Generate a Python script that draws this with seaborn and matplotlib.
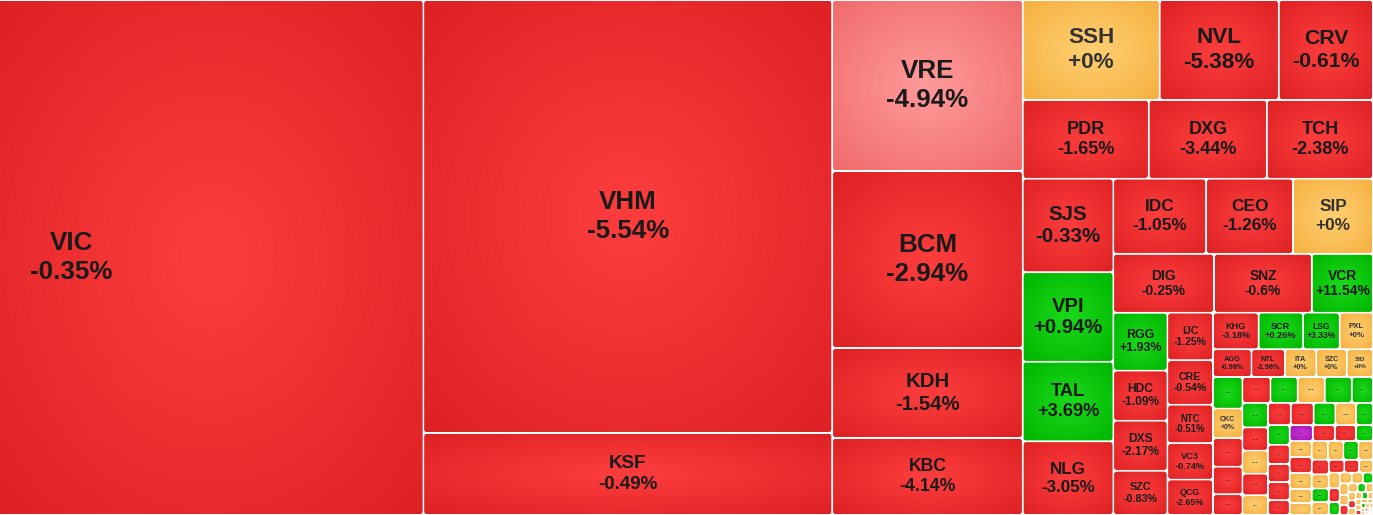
import numpy as np
import matplotlib
matplotlib.use("Agg")
import matplotlib.pyplot as plt
from matplotlib.patches import FancyBboxPatch
import seaborn as sns

# ---------------- data ----------------
tickers = ["VIC", "VHM", "KSF", "VRE", "BCM", "KDH", "KBC",
           "SSH", "NVL", "CRV", "PDR", "DXG", "TCH",
           "SJS", "VPI", "TAL", "NLG", "IDC", "CEO", "SIP",
           "DIG", "SNZ", "VCR", "RGG", "HDC", "DXS", "SZC",
           "IJC", "CRE", "NTC", "VC3", "QCG",
           "KHG", "SCR", "LSG", "PXL", "AGG", "NTL", "ITA", "SZC", "SID"]
changes = [-0.35, -5.54, -0.49, -4.94, -2.94, -1.54, -4.14,
           0, -5.38, -0.61, -1.65, -3.44, -2.38,
           -0.33, 0.94, 3.69, -3.05, -1.05, -1.26, 0,
           -0.25, -0.6, 11.54, 1.93, -1.09, -2.17, -0.83,
           -1.25, -0.54, -0.51, -0.74, -2.65,
           -3.18, 0.26, 3.33, 0, -0.98, -1.96, 0, 0, 0]
market_cap = [362000, 176660, 33460, 32490, 33630, 17100, 14630,
              13660, 11880, 9405, 9906, 9282, 8346,
              8460, 8100, 7200, 6660, 6956, 6512, 5994,
              5916, 5742, 3596, 3127, 2703, 2703, 2385,
              2162, 2024, 1748, 1656, 1610,
              1665, 1628, 1332, 1221, 1064, 924, 868, 840, 728]
highlighted = ["VRE"]

# small stocks whose tickers are hidden ("...")
tail_cap = [928, 870, 841, 812, 609,
            725, 700, 700, 700, 550,
            625, 588, 588, 550, 500,
            506, 506, 484, 462, 374,
            425, 414, 391, 391, 320,
            370, 350, 336, 272,
            352, 352, 352, 308, 264,
            300, 290, 280, 270, 250, 240, 230, 220, 200, 190,
            180, 170, 150, 140, 130, 120, 110, 100, 90, 85,
            80, 70, 65, 60, 55, 50, 45, 40, 36, 32,
            30, 28, 25, 22, 20, 18, 16, 14, 12, 10,
            9, 8, 7, 6, 5, 4, 3, 3, 2, 2]
tail_trend = ["g", "o", "r", "r", "r",
              "r", "g", "o", "g", "g",
              "g", "r", "o", "r", "o",
              "r", "r", "g", "o", "g",
              "g", "r", "r", "r", "r",
              "p", "r", "r", "g",
              "o", "r", "o", "o", "o",
              "o", "o", "g", "o", "r", "o", "g", "o", "r", "r",
              "o", "o", "r", "g", "o", "o", "g", "o", "o", "r",
              "o", "g", "o", "o", "r", "o", "o", "g", "o", "o",
              "o", "r", "o", "o", "g", "o", "o", "o", "o", "r",
              "o", "o", "o", "o", "o", "o", "o", "o", "o", "o"]
tail_named = {1: ("CKC", 0)}

# strip structure of the treemap (orientation, number of items)
strips = [("v", 1), ("v", 2), ("v", 4), ("h", 3), ("h", 3), ("v", 4),
          ("h", 3), ("h", 3), ("v", 4), ("v", 5), ("h", 4), ("h", 5),
          ("v", 5), ("h", 5), ("v", 5), ("h", 5), ("v", 5), ("h", 4), ("v", 5)]

LAYOUT_W, LAYOUT_H = 1654, 515
VIEW_W = 1373
VIEW_X0 = LAYOUT_W - VIEW_W

# ---------------- layout ----------------
def worst(row, side):
    s = sum(row)
    return max(max(side * side * r / (s * s), s * s / (side * side * r)) for r in row)


def layout(vals, strips, x, y, w, h):
    total = float(sum(vals))
    areas = [v * w * h / total for v in vals]
    rects = []
    i = 0
    for orient, n in strips:
        row = areas[i:i + n]
        s = sum(row)
        if orient == "v":
            t = s / h
            yy = y
            for a in row:
                rects.append((x, yy, t, a / t)); yy += a / t
            x += t; w -= t
        else:
            t = s / w
            xx = x
            for a in row:
                rects.append((xx, y, a / t, t)); xx += a / t
            y += t; h -= t
        i += n
    while i < len(areas):
        side = min(w, h)
        row = [areas[i]]; i += 1
        while i < len(areas) and worst(row + [areas[i]], side) <= worst(row, side):
            row.append(areas[i]); i += 1
        s = sum(row)
        if w >= h:
            t = s / h; yy = y
            for a in row:
                rects.append((x, yy, t, a / t)); yy += a / t
            x += t; w -= t
        else:
            t = s / w; xx = x
            for a in row:
                rects.append((xx, y, a / t, t)); xx += a / t
            y += t; h -= t
    return rects


all_vals = market_cap + tail_cap
rects = layout(all_vals, strips, 0, 0, LAYOUT_W, LAYOUT_H)

# ---------------- styling ----------------
sns.set_theme(style="white")
plt.rcParams["font.family"] = ["Liberation Sans", "DejaVu Sans"]

grad = {
    "r": ((0.99, 0.24, 0.24), (0.87, 0.13, 0.14)),
    "g": ((0.10, 0.85, 0.10), (0.00, 0.71, 0.00)),
    "o": ((1.00, 0.81, 0.44), (0.96, 0.69, 0.25)),
    "p": ((0.80, 0.20, 0.84), (0.64, 0.08, 0.70)),
    "k": ((1.00, 0.60, 0.60), (0.94, 0.42, 0.42)),
}

N = 48
gx, gy = np.meshgrid(np.linspace(-1, 1, N), np.linspace(-1, 1, N))
tt = np.clip(np.sqrt(gx ** 2 + gy ** 2) / np.sqrt(2), 0, 1) ** 1.1


def grad_img(key):
    c, e = np.array(grad[key][0]), np.array(grad[key][1])
    return c[None, None, :] * (1 - tt[..., None]) + e[None, None, :] * tt[..., None]


imgs = {k: grad_img(k) for k in grad}

fig = plt.figure(figsize=(VIEW_W / 100, LAYOUT_H / 100), dpi=100)
ax = fig.add_axes([0, 0, 1, 1])
ax.set_xlim(VIEW_X0, LAYOUT_W)
ax.set_ylim(LAYOUT_H, 0)
ax.axis("off")
fig.patch.set_facecolor("white")

PX2PT = 0.72
gap = 1.0


def trend_key(ch):
    if ch > 0:
        return "g"
    if ch < 0:
        return "r"
    return "o"


def draw_tile(r, key, label=None, pct=None, dots=False):
    x, y, w, h = r
    x0, y0, w0, h0 = x + gap, y + gap, max(w - 2 * gap, 0.3), max(h - 2 * gap, 0.3)
    rad = min(2.5, w0 / 3, h0 / 3)
    patch = FancyBboxPatch((x0, y0), w0, h0, boxstyle=f"round,pad=0,rounding_size={rad}",
                           linewidth=0, facecolor=grad[key][1])
    ax.add_patch(patch)
    # gradient spans the visible part of the tile
    gx0 = max(x0, VIEW_X0)
    im = ax.imshow(imgs[key], extent=(gx0, x0 + w0, y0 + h0, y0), interpolation="bilinear",
                   aspect="auto", zorder=1)
    im.set_clip_path(patch)
    cx, cy = x + w / 2, y + h / 2
    tc = "#333333" if key == "o" else "#1a1a1a"
    if label is not None:
        fs = max(5.0, min(26.0, 0.21 * h + 1.5, 0.22 * w + 0.5))
        ax.text(cx, cy - 0.54 * fs, label, ha="center", va="center", fontsize=fs * PX2PT,
                fontweight="bold", color=tc, zorder=3)
        ax.text(cx, cy + 0.54 * fs, pct, ha="center", va="center", fontsize=fs * PX2PT,
                fontweight="bold", color=tc, zorder=3)
    elif dots and min(w, h) >= 12:
        dfs = 8 if min(w, h) >= 20 else 6
        ax.text(cx, cy - 1, "...", ha="center", va="center", fontsize=dfs * PX2PT,
                fontweight="bold", color="#2a2a2a", zorder=3)


n_main = len(market_cap)
for k in range(n_main):
    key = "k" if tickers[k] in highlighted else trend_key(changes[k])
    draw_tile(rects[k], key, tickers[k], f"{changes[k]:+g}%")

for j in range(len(tail_cap)):
    r = rects[n_main + j]
    if j in tail_named:
        name, ch = tail_named[j]
        draw_tile(r, tail_trend[j], name, f"{ch:+g}%")
    else:
        draw_tile(r, tail_trend[j], dots=True)

fig.savefig("out.png", dpi=100, facecolor="white")
